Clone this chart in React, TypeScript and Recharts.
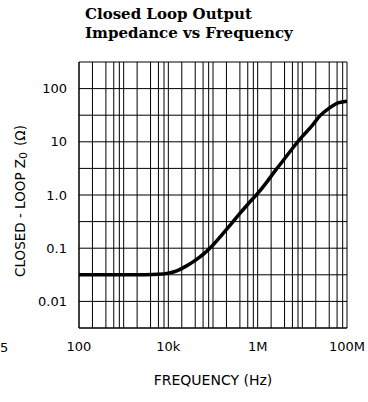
import React from "react";
import { LineChart, Line, XAxis, YAxis, CartesianGrid, Label } from "recharts";

// Closed-loop output impedance (ohms)
const freqHz = [
  100, 1e3, 3e3, 6e3, 1e4, 1.6e4, 2.5e4, 4e4, 6.3e4, 1e5, 1.6e5, 2.5e5, 4e5,
  6.3e5, 1e6, 1.6e6, 2.5e6, 4e6, 6.3e6, 1e7, 1.6e7, 2.5e7, 4e7, 6.3e7, 1e8,
];
const impedanceOhm = [
  0.0316, 0.0316, 0.0317, 0.0323, 0.034, 0.038, 0.046, 0.059, 0.079, 0.115,
  0.18, 0.28, 0.45, 0.7, 1.07, 1.75, 2.9, 4.8, 7.9, 12.6, 19.5, 31, 43, 54, 58,
];

// grid lines: 2, 4, 6, 8 per decade on x, half decades on y
const xGridTicks = [
  100, 200, 400, 600, 800,
  1e3, 2e3, 4e3, 6e3, 8e3,
  1e4, 2e4, 4e4, 6e4, 8e4,
  1e5, 2e5, 4e5, 6e5, 8e5,
  1e6, 2e6, 4e6, 6e6, 8e6,
  1e7, 2e7, 4e7, 6e7, 8e7,
  1e8,
];
const xTickLabels: Record<number, string> = {
  100: "100",
  10000: "10k",
  1000000: "1M",
  100000000: "100M",
};
const yGridTicks = [
  0.0031623, 0.01, 0.031623, 0.1, 0.31623, 1, 3.1623, 10, 31.623, 100, 316.23,
];
const yTickLabels: Record<number, string> = {
  0.01: "0.01",
  0.1: "0.1",
  1: "1.0",
  10: "10",
  100: "100",
};

const data = freqHz.map((f, i) => ({ f, z: impedanceOhm[i] }));

const tickStyle = { fontFamily: "DejaVu Sans", fontSize: 13, fill: "#000" };

const YLabel = () => {
  const cx = 20;
  const cy = 201;
  return (
    <text
      x={cx}
      y={cy}
      transform={`rotate(-90 ${cx} ${cy})`}
      textAnchor="middle"
      dominantBaseline="central"
      style={{ ...tickStyle, fontSize: 13.5 }}
    >
      CLOSED - LOOP Z
      <tspan baselineShift="-30%" fontSize={11}>0</tspan>
      <tspan dx={6}>(Ω)</tspan>
    </text>
  );
};

export default function App() {
  return (
    <div style={{ position: "absolute", left: 0, top: 0, width: 368, height: 402, background: "#fff" }}>
      <div
        style={{
          position: "absolute",
          left: 85,
          top: 5,
          fontFamily: "DejaVu Serif",
          fontWeight: "bold",
          fontSize: 15,
          lineHeight: "19px",
          color: "#000",
          whiteSpace: "nowrap",
        }}
      >
        Closed Loop Output
        <br />
        Impedance vs Frequency
      </div>
      <div style={{ position: "absolute", left: 0, top: 340, fontFamily: "DejaVu Sans", fontSize: 13 }}>5</div>
      <LineChart
        width={368}
        height={402}
        data={data}
        margin={{ top: 62, right: 21, bottom: 44, left: 29 }}
      >
        <CartesianGrid stroke="#000" strokeWidth={1} />
        <XAxis
          dataKey="f"
          type="number"
          scale="log"
          domain={[100, 1e8]}
          ticks={xGridTicks}
          interval={0}
          tickFormatter={(v: number) => xTickLabels[v] ?? ""}
          tickLine={false}
          axisLine={{ stroke: "#000" }}
          tick={tickStyle}
          tickMargin={8}
          height={30}
        >
          <Label
            value="FREQUENCY (Hz)"
            position="insideBottom"
            offset={-27}
            style={{ ...tickStyle, fontSize: 14, textAnchor: "middle" }}
          />
        </XAxis>
        <YAxis
          type="number"
          scale="log"
          domain={[0.0031623, 316.23]}
          ticks={yGridTicks}
          interval={0}
          allowDataOverflow
          tickFormatter={(v: number) => yTickLabels[v] ?? ""}
          tickLine={false}
          axisLine={{ stroke: "#000" }}
          tick={tickStyle}
          tickMargin={6}
          width={50}
        >
          <Label content={YLabel} />
        </YAxis>
        <Line
          dataKey="z"
          type="monotone"
          stroke="#000"
          strokeWidth={3.5}
          dot={false}
          isAnimationActive={false}
        />
      </LineChart>
    </div>
  );
}
